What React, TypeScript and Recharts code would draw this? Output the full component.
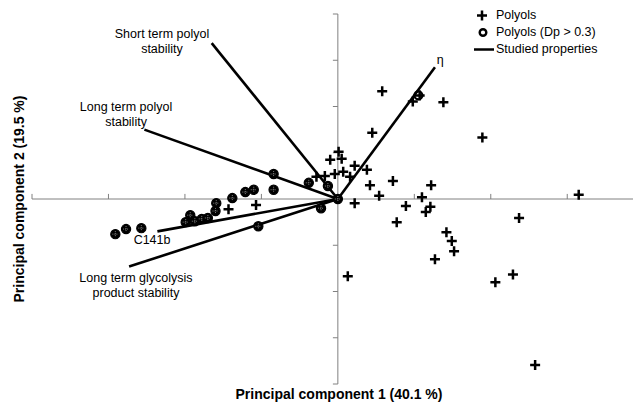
import React from 'react';
import { ScatterChart, Scatter, XAxis, YAxis, ReferenceLine } from 'recharts';

// PCA scores (one tick = 1 unit)
const polyols: [number, number][] = [
  [-1.43, -0.22], [-1.07, -0.13], [-0.28, 0.48], [-0.17, 0.5], [-0.1, 0.85],
  [0.01, 1.02], [0.05, 0.87], [-0.04, 0.54], [0.07, 0.59], [0.16, 0.48],
  [0.22, 0.72], [0.38, 0.63], [0.45, 1.43], [0.58, 2.33], [0.98, 2.11],
  [1.07, 2.24], [1.38, 2.09], [1.89, 1.33], [0.42, 0.3], [0.72, 0.39],
  [1.22, 0.3], [0.54, 0.07], [0.22, -0.09], [1.1, 0.04], [0.89, -0.15],
  [1.21, -0.17], [1.15, -0.28], [0.77, -0.5], [1.42, -0.72], [1.49, -0.91],
  [1.52, -1.13], [1.27, -1.3], [0.13, -1.67], [2.29, -1.63], [2.06, -1.8],
  [2.58, -3.59], [2.37, -0.41], [3.15, 0.09],
];

const polyolsDp: [number, number][] = [
  [-2.91, -0.76], [-2.77, -0.65], [-2.57, -0.63], [-1.99, -0.5], [-1.93, -0.35],
  [-1.87, -0.48], [-1.78, -0.43], [-1.7, -0.41], [-1.6, -0.26], [-1.59, -0.09],
  [-1.38, 0.02], [-1.21, 0.15], [-1.1, 0.2], [-0.84, 0.2], [-0.84, 0.54],
  [-0.38, 0.35], [-0.13, 0.28], [-0.22, -0.2], [0, 0], [-1.04, -0.59],
];

// this one shows as an open ring over its cross
const polyolsDpOpen: [number, number][] = [[1.04, 2.22]];

// studied properties (loading vectors)
const propertyNames = [
  'Short term polyol stability',
  'Long term polyol stability',
  'η',
  'C141b',
  'Long term glycolysis product stability',
];
const propertyX = [-1.65, -2.53, 1.27, -2.36, -2.73];
const propertyY = [3.37, 1.5, 2.85, -0.7, -1.46];

const xTicks = [-4, -3, -2, -1, 1, 2, 3];
const yTicks = [-4, -3, -2, -1, 1, 2, 3, 4];

// where the vector names sit (data coords), split in lines
const labelLayout = [
  { lines: ['Short term polyol', 'stability'], x: -2.3, y: 3.41 },
  { lines: ['Long term polyol', 'stability'], x: -2.77, y: 1.83 },
  { lines: ['η'], x: 1.34, y: 3.0 },
  { lines: ['C141b'], x: -2.43, y: -0.89 },
  { lines: ['Long term glycolysis', 'product stability'], x: -2.64, y: -1.88 },
];

const FONT = '"Liberation Sans", Arial, sans-serif';

const toPts = (arr: [number, number][]) => arr.map(([x, y]) => ({ x, y }));

const CrossShape = (props: any) => {
  const { cx, cy } = props;
  return (
    <path
      d={`M${cx - 5},${cy}H${cx + 5}M${cx},${cy - 5}V${cy + 5}`}
      stroke="#000"
      strokeWidth={2.5}
      fill="none"
    />
  );
};

// ring drawn over a cross: ends up nearly solid black with a faint cross
const RingShape = (props: any) => {
  const { cx, cy } = props;
  return (
    <g>
      <circle cx={cx} cy={cy} r={4.6} fill="#000" stroke="#000" strokeWidth={1.2} />
      <path
        d={`M${cx - 3},${cy}H${cx + 3}M${cx},${cy - 3}V${cy + 3}`}
        stroke="#8a8a8a"
        strokeWidth={0.9}
        strokeDasharray="1 1"
      />
    </g>
  );
};

const OpenRingShape = (props: any) => {
  const { cx, cy } = props;
  return <circle cx={cx + 1} cy={cy - 1} r={4} fill="none" stroke="#000" strokeWidth={2.2} />;
};

const LabelShape = (props: any) => {
  const { cx, cy, payload } = props;
  const lines: string[] = payload.lines;
  const top = cy - ((lines.length - 1) * 15) / 2;
  return (
    <text
      x={cx}
      y={top}
      textAnchor="middle"
      dominantBaseline="central"
      fontFamily={FONT}
      fontSize={12.5}
      fill="#000"
      style={{ fill: '#000' }}
    >
      {lines.map((l, i) => (
        <tspan key={i} x={cx} dy={i === 0 ? 0 : 15}>
          {l}
        </tspan>
      ))}
    </text>
  );
};

function LegendBox() {
  const row: React.CSSProperties = {
    display: 'flex',
    alignItems: 'center',
    height: 17,
    fontFamily: FONT,
    fontSize: 12.5,
    color: '#000',
    whiteSpace: 'nowrap',
  };
  return (
    <div style={{ position: 'absolute', left: 474, top: 6.5 }}>
      <div style={row}>
        <svg width={22} height={17}>
          <path d="M3,8.5H13M8,3.5V13.5" stroke="#000" strokeWidth={2.5} />
        </svg>
        Polyols
      </div>
      <div style={row}>
        <svg width={22} height={17}>
          <circle cx={9} cy={8.5} r={3.3} fill="none" stroke="#000" strokeWidth={2.4} />
        </svg>
        Polyols (Dp &gt; 0.3)
      </div>
      <div style={row}>
        <svg width={22} height={17}>
          <line x1={0} y1={8.5} x2={20} y2={8.5} stroke="#000" strokeWidth={2.5} />
        </svg>
        Studied properties
      </div>
    </div>
  );
}

export default function App() {
  const crossData = toPts(polyols);
  const ringData = toPts(polyolsDp);
  const openRingData = toPts(polyolsDpOpen);
  const labelData = labelLayout.map((l) => ({ ...l }));

  return (
    <div style={{ position: 'absolute', left: 0, top: 0, width: 635, height: 405, background: '#fff' }}>
      <ScatterChart width={635} height={405} margin={{ top: 14, right: 2, bottom: 21, left: 32 }}>
        <XAxis type="number" dataKey="x" domain={[-4, 3.86]} allowDataOverflow hide />
        <YAxis type="number" dataKey="y" domain={[-4, 4]} allowDataOverflow hide />

        <ReferenceLine y={0} stroke="#808080" strokeWidth={1} />
        <ReferenceLine x={0} stroke="#808080" strokeWidth={1} />
        {xTicks.map((t) => (
          <ReferenceLine
            key={'xt' + t}
            segment={[{ x: t, y: 0 }, { x: t, y: 0.11 }]}
            stroke="#808080"
            strokeWidth={1}
          />
        ))}
        {yTicks.map((t) => (
          <ReferenceLine
            key={'yt' + t}
            segment={[{ x: -0.065, y: t }, { x: 0, y: t }]}
            stroke="#808080"
            strokeWidth={1}
          />
        ))}

        {propertyNames.map((name, i) => (
          <ReferenceLine
            key={name}
            segment={[{ x: 0, y: 0 }, { x: propertyX[i], y: propertyY[i] }]}
            stroke="#000"
            strokeWidth={2.6}
          />
        ))}

        <Scatter name="Polyols (Dp > 0.3)" data={ringData} shape={RingShape} isAnimationActive={false} />
        <Scatter name="Polyols" data={crossData} shape={CrossShape} isAnimationActive={false} />
        <Scatter name="Polyols (Dp > 0.3) open" data={openRingData} shape={OpenRingShape} isAnimationActive={false} />
        <Scatter name="labels" data={labelData} shape={LabelShape} isAnimationActive={false} />
      </ScatterChart>

      <LegendBox />

      <div
        style={{
          position: 'absolute',
          left: 339,
          top: 394,
          transform: 'translate(-50%, -50%)',
          fontFamily: FONT,
          fontWeight: 'bold',
          fontSize: 14,
          whiteSpace: 'nowrap',
        }}
      >
        Principal component 1 (40.1 %)
      </div>
      <div
        style={{
          position: 'absolute',
          left: 19,
          top: 199,
          transform: 'translate(-50%, -50%) rotate(-90deg)',
          fontFamily: FONT,
          fontWeight: 'bold',
          fontSize: 14,
          whiteSpace: 'nowrap',
        }}
      >
        Principal component 2 (19.5 %)
      </div>
    </div>
  );
}
